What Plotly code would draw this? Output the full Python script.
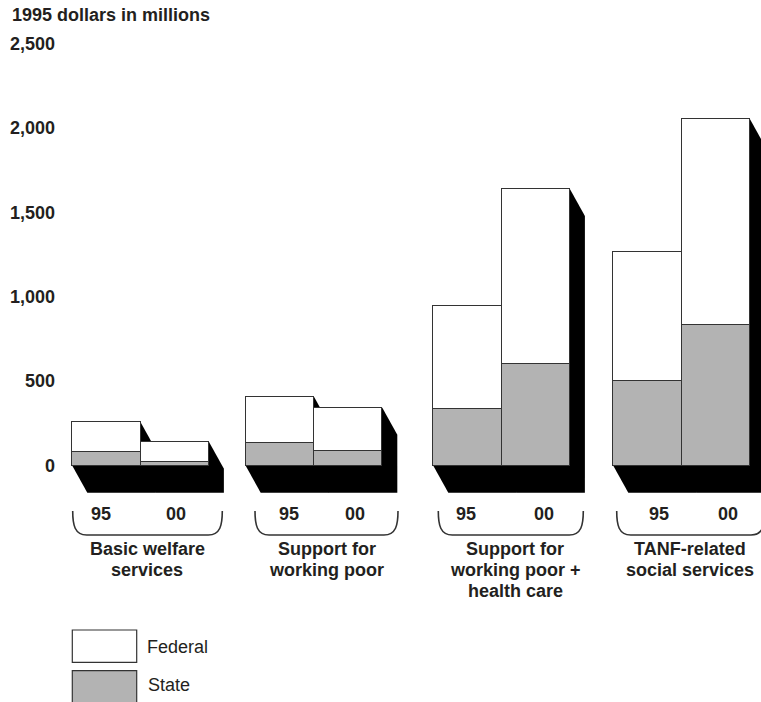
import plotly.graph_objects as go

# ---- data (1995 dollars in millions) ----
categories = [
    "Basic welfare\nservices",
    "Support for\nworking poor",
    "Support for\nworking poor +\nhealth care",
    "TANF-related\nsocial services",
]
years = ["95", "00"]
state_95 = [79, 133, 336, 504]
state_00 = [20, 89, 603, 834]
federal_95 = [178, 276, 612, 764]
federal_00 = [122, 255, 1036, 1220]
y_ticks = [0, 500, 1000, 1500, 2000, 2500]
series_names = ["Federal", "State"]

# ---- layout constants (pixel-based x axis) ----
W, H = 761, 702
PX_PER_UNIT = 0.1688          # vertical scale
ZERO_PX = 465.7               # pixel row of the zero line
group_left = [72.3, 245.7, 433.3, 613.3]
bar_w = 68.3
shadow_dx = 15.0
shadow_dy = 27.0 / PX_PER_UNIT
bracket_span = [(72.7, 222.3), (255.0, 398.0), (438.3, 583.3), (616.7, 765.0)]
year_label_x = [(100.7, 175.7), (289.0, 355.0), (466.0, 544.0), (659.0, 728.0)]
cat_label_x = [147.3, 326.7, 515.0, 690.0]

TEXT = "#231f20"
EDGE = "#333333"
GRAY = "#b3b3b3"
FONT = "Liberation Sans, Arial, Helvetica, sans-serif"


def py(p):
    """pixel row -> paper y"""
    return 1 - p / H


def px(p):
    return p / W


# bar positions
xs, st, fe = [], [], []
for g in range(len(categories)):
    x0 = group_left[g]
    xs += [x0 + bar_w / 2, x0 + bar_w * 1.5]
    st += [state_95[g], state_00[g]]
    fe += [federal_95[g], federal_00[g]]

fig = go.Figure()
fig.add_trace(go.Bar(x=xs, y=st, width=bar_w, name=series_names[1],
                     marker=dict(color=GRAY, line=dict(color=EDGE, width=1.2)),
                     showlegend=False, hoverinfo="skip"))
fig.add_trace(go.Bar(x=xs, y=fe, width=bar_w, name=series_names[0],
                     marker=dict(color="white", line=dict(color=EDGE, width=1.2)),
                     showlegend=False, hoverinfo="skip"))

shapes = []
# extruded black shadows behind each bar
for xc, s, f in zip(xs, st, fe):
    top = s + f
    x0, x1 = xc - bar_w / 2, xc + bar_w / 2
    pts = [(x0, top), (x1, top), (x1 + shadow_dx, top - shadow_dy),
           (x1 + shadow_dx, -shadow_dy), (x0 + shadow_dx, -shadow_dy), (x0, 0)]
    path = "M " + " L ".join(f"{a},{b}" for a, b in pts) + " Z"
    shapes.append(dict(type="path", path=path, xref="x", yref="y",
                       fillcolor="black", line=dict(width=0), layer="below"))

# group brackets under the year labels
for (a, b) in bracket_span:
    y0, y1 = 511.0, 535.0
    r = 14.0
    pts = (f"M {px(a)},{py(y0)} "
           f"C {px(a)},{py(y0 + 14)} {px(a + 2)},{py(y1)} {px(a + r)},{py(y1)} "
           f"L {px(b - r)},{py(y1)} "
           f"C {px(b - 2)},{py(y1)} {px(b)},{py(y0 + 14)} {px(b)},{py(y0)}")
    shapes.append(dict(type="path", path=pts, xref="paper", yref="paper",
                       line=dict(color=EDGE, width=1.6)))

# legend swatches
shapes.append(dict(type="rect", xref="paper", yref="paper",
                   x0=px(72.3), x1=px(136.7), y0=py(662.3), y1=py(630),
                   fillcolor="white", line=dict(color=EDGE, width=1.2)))
shapes.append(dict(type="rect", xref="paper", yref="paper",
                   x0=px(72.3), x1=px(136.7), y0=py(708), y1=py(670.7),
                   fillcolor=GRAY, line=dict(color=EDGE, width=1.2)))

ann = []
bold = dict(family=FONT, size=18, color=TEXT)
# axis title
ann.append(dict(text="<b>1995 dollars in millions</b>", x=px(10), y=py(15),
                xref="paper", yref="paper", xanchor="left", yanchor="middle",
                showarrow=False, font=bold))
# y tick labels
for t in y_ticks:
    ann.append(dict(text=f"<b>{t:,}</b>", x=px(57), y=t, xref="paper", yref="y",
                    xanchor="right", yanchor="middle", showarrow=False, font=bold))
# year labels and category labels
for g, cat in enumerate(categories):
    for k, yr in enumerate(years):
        ann.append(dict(text=f"<b>{yr}</b>", x=px(year_label_x[g][k]), y=py(513.5),
                        xref="paper", yref="paper", xanchor="center", yanchor="middle",
                        showarrow=False, font=bold))
    for i, line in enumerate(cat.split("\n")):
        ann.append(dict(text=f"<b>{line}</b>", x=px(cat_label_x[g]), y=py(549 + 21 * i),
                        xref="paper", yref="paper", xanchor="center", yanchor="middle",
                        showarrow=False, font=bold))
# legend text
reg = dict(family=FONT, size=18, color=TEXT)
ann.append(dict(text=series_names[0], x=px(145), y=py(647), xref="paper", yref="paper",
                xanchor="left", yanchor="middle", showarrow=False, font=reg))
ann.append(dict(text=series_names[1], x=px(146), y=py(685), xref="paper", yref="paper",
                xanchor="left", yanchor="middle", showarrow=False, font=reg))

fig.update_layout(
    width=W, height=H, margin=dict(l=0, r=0, t=0, b=0),
    barmode="stack", bargap=0,
    paper_bgcolor="white", plot_bgcolor="white",
    xaxis=dict(range=[0, W], visible=False, fixedrange=True),
    yaxis=dict(range=[-(H - ZERO_PX) / PX_PER_UNIT, ZERO_PX / PX_PER_UNIT],
               visible=False, fixedrange=True),
    shapes=shapes, annotations=ann, showlegend=False,
)

fig.write_html("out.html")
